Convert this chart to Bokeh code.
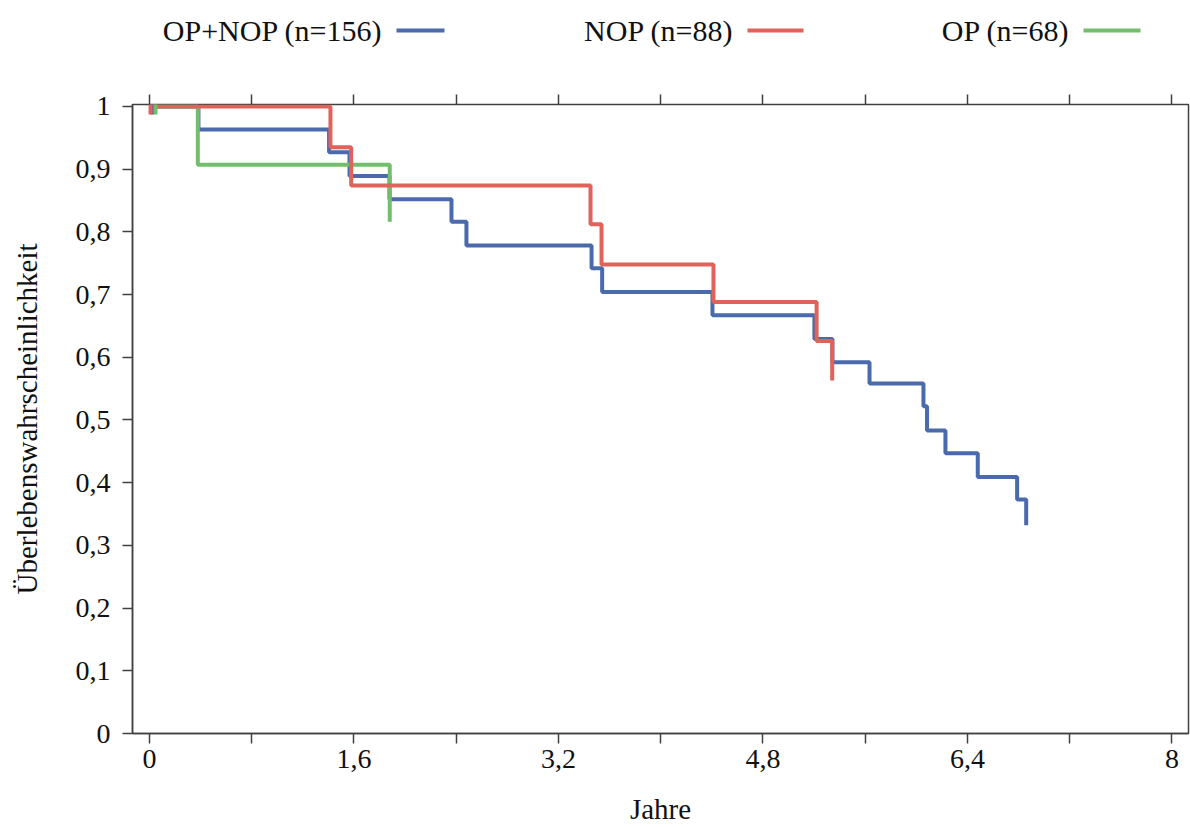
import math
from bokeh.plotting import figure
from bokeh.models import Range1d, FixedTicker, LinearAxis
from bokeh.layouts import column
from bokeh.embed import file_html
from bokeh.resources import INLINE
from bokeh.core.properties import value

# ---------------- data ----------------
series_names = ["OP+NOP (n=156)", "NOP (n=88)", "OP (n=68)"]

blue_t = [0, 0.383, 1.405, 1.565, 1.878, 2.363, 2.48, 3.459, 3.542, 4.405,
          5.203, 5.344, 5.634, 6.056, 6.084, 6.228, 6.481, 6.789, 6.86]
blue_s = [1.0, 0.963, 0.927, 0.889, 0.852, 0.816, 0.778, 0.742, 0.704, 0.667,
          0.629, 0.592, 0.558, 0.522, 0.483, 0.447, 0.409, 0.373, 0.332]

red_t = [0, 1.416, 1.578, 3.451, 3.537, 4.413, 5.22, 5.342]
red_s = [1.0, 0.935, 0.874, 0.812, 0.748, 0.688, 0.626, 0.563]

green_t = [0, 0.378, 1.88]
green_s = [1.0, 0.907, 0.816]

blue_censor_t = [0.023]
blue_censor_s = [1.0]
red_censor_t = [0.008]
red_censor_s = [1.0]
green_censor_t = [0.047]
green_censor_s = [1.0]

x_ticks = [0, 1.6, 3.2, 4.8, 6.4, 8]
x_tick_labels = ["0", "1,6", "3,2", "4,8", "6,4", "8"]
x_minor_ticks = [0.8, 2.4, 4.0, 5.6, 7.2]
y_ticks = [0, 0.1, 0.2, 0.3, 0.4, 0.5, 0.6, 0.7, 0.8, 0.9, 1]
y_tick_labels = ["0", "0,1", "0,2", "0,3", "0,4", "0,5", "0,6", "0,7", "0,8", "0,9", "1"]

x_title = "Jahre"
y_title = "Überlebenswahrscheinlichkeit"

# ---------------- style ----------------
FONT = "Liberation Serif"
BLUE = "#4A6AAC"
RED = "#E0625A"
GREEN = "#72BE6C"
colors = [BLUE, RED, GREEN]
AX = "#404040"
W = 1190
FRAME_L, FRAME_R = 132, 1188
LEG_H = 68
LW = 4

# ---------------- legend strip (frame aligned with main frame; coords = page px) ----------------
leg = figure(width=W, height=LEG_H, x_range=Range1d(FRAME_L, FRAME_R), y_range=Range1d(LEG_H, 0),
             x_axis_type=None, y_axis_type=None, toolbar_location=None,
             output_backend="svg", min_border=0,
             min_border_left=FRAME_L, min_border_right=W - FRAME_R)
leg.grid.visible = False
leg.outline_line_color = None
leg_line_x0 = [396, 747, 1083]
leg_line_x1 = [444, 803, 1140]
leg_y = 30
leg.segment(x0=leg_line_x0, x1=leg_line_x1, y0=[leg_y] * 3, y1=[leg_y] * 3,
            line_color=colors, line_width=LW)
leg.text(x=[x - 14 for x in leg_line_x0], y=[leg_y] * 3, text=series_names,
         text_font=value(FONT), text_font_size="30px", text_color="#111111",
         text_align="right", text_baseline="middle")

# ---------------- main plot ----------------
p = figure(width=W, height=827 - LEG_H, x_range=Range1d(-0.133, 8.13), y_range=Range1d(0, 1.003),
           toolbar_location=None, output_backend="svg",
           min_border_left=FRAME_L, min_border_right=W - FRAME_R,
           min_border_top=104 - LEG_H, min_border_bottom=827 - 733)
p.grid.visible = False
p.outline_line_color = AX
p.outline_line_width = 1.5
p.background_fill_color = "white"
p.border_fill_color = "white"

# axes
xa = p.xaxis[0]
xa.ticker = FixedTicker(ticks=x_ticks, minor_ticks=x_minor_ticks)
xa.major_label_overrides = dict(zip(x_ticks, x_tick_labels))
ya = p.yaxis[0]
ya.ticker = FixedTicker(ticks=y_ticks)
ya.major_label_overrides = dict(zip(y_ticks, y_tick_labels))

for ax in (xa, ya):
    ax.axis_line_color = AX
    ax.axis_line_width = 1.5
    ax.major_tick_line_color = AX
    ax.minor_tick_line_color = AX
    ax.major_tick_line_width = 1.5
    ax.minor_tick_line_width = 1.5
    ax.major_tick_in = 0
    ax.major_tick_out = 10
    ax.minor_tick_in = 0
    ax.minor_tick_out = 10
    ax.major_label_text_font = FONT
    ax.major_label_text_font_size = "28px"
    ax.major_label_text_color = "#111111"
    ax.axis_label_text_font = FONT
    ax.axis_label_text_font_size = "29px"
    ax.axis_label_text_font_style = "normal"
    ax.axis_label_text_color = "#111111"

ya.minor_tick_out = 0
xa.axis_label = x_title
ya.axis_label = y_title
xa.major_label_standoff = 6
xa.axis_label_standoff = 22
ya.major_label_standoff = 12
ya.axis_label_standoff = 30

top = LinearAxis(ticker=FixedTicker(ticks=x_ticks, minor_ticks=x_minor_ticks))
top.axis_line_color = None
top.major_tick_line_color = AX
top.minor_tick_line_color = AX
top.major_tick_line_width = 1.5
top.minor_tick_line_width = 1.5
top.major_tick_in = 0
top.major_tick_out = 10
top.minor_tick_in = 0
top.minor_tick_out = 10
top.major_label_text_font_size = "0px"
top.major_label_text_color = None
top.major_label_standoff = 0
p.add_layout(top, "above")

# curves (blue, green, red on top)
for t, s, c in ((blue_t, blue_s, BLUE), (green_t, green_s, GREEN), (red_t, red_s, RED)):
    p.step(x=t, y=s, mode="after", line_color=c, line_width=LW)

for t, s, c in ((blue_censor_t, blue_censor_s, BLUE), (green_censor_t, green_censor_s, GREEN),
                (red_censor_t, red_censor_s, RED)):
    p.scatter(x=t, y=s, marker="dash", size=16, angle=math.pi / 2,
              line_color=c, line_width=LW)

layout = column(leg, p, spacing=0)
open("out.html", "w").write(file_html(layout, INLINE))
